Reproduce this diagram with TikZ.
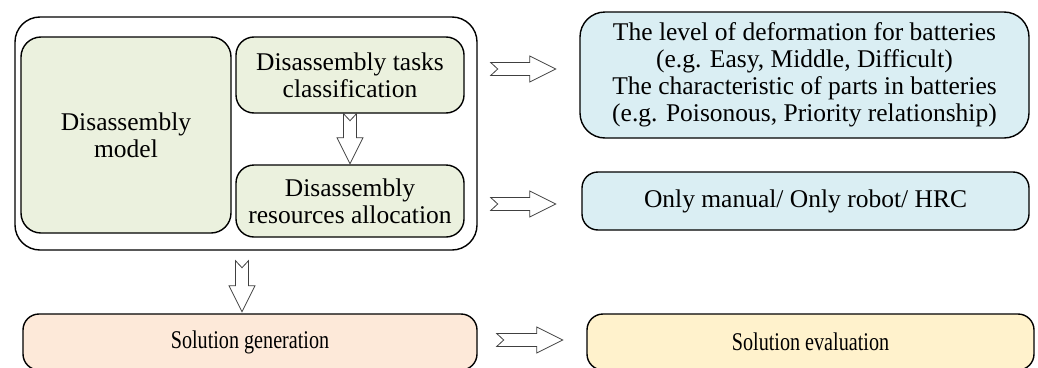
\documentclass[tikz,border=0pt]{standalone}
\usepackage{fontspec}
\setmainfont{Liberation Serif}
\usetikzlibrary{calc}

\definecolor{greenfill}{HTML}{EBF1DE}
\definecolor{bluefill}{HTML}{DAEEF3}
\definecolor{pinkfill}{HTML}{FDE9D9}
\definecolor{yellowfill}{HTML}{FFF2CC}
\definecolor{arrowgray}{HTML}{404040}

\tikzset{
  box/.style={draw=black, line width=1.4pt, align=center, inner sep=0pt,
    font=\fontsize{25.5}{27}\selectfont},
  greenbox/.style={box, fill=greenfill, rounded corners=18pt},
  bluebox/.style={box, fill=bluefill},
  arrowline/.style={draw=arrowgray, line width=0.8pt, fill=white, line join=miter},
  pics/blockarrow/.style={code={
    \draw[arrowline] (0,6.5) -- (#1-26,6.5) -- (#1-26,13) -- (#1,0)
      -- (#1-26,-13) -- (#1-26,-6.5) -- (0,-6.5) -- (7,0) -- cycle;
  }}
}

\begin{document}
\begin{tikzpicture}[x=1pt, y=-1pt]
  \useasboundingbox (0,0) rectangle (1038,367);
  \clip (0,0) rectangle (1038,367);

  % framework around the disassembly modules
  \node[box, fill=white, rounded corners=25pt, minimum width=462pt, minimum height=233pt]
    (outer) at (246,133.5) {};
  \node[greenbox, rounded corners=20pt, minimum width=210pt, minimum height=196pt]
    (model) at (126,135) {Disassembly\\model};
  \node[greenbox, minimum width=228pt, minimum height=76pt]
    (tasks) at (350,75) {Disassembly tasks\\classification};
  \node[greenbox, minimum width=228pt, minimum height=72pt]
    (resources) at (350,201) {Disassembly\\resources allocation};

  % right-hand descriptions
  \node[bluebox, rounded corners=25pt, minimum width=449pt, minimum height=126pt]
    (levels) at (804.5,75) {The level of deformation for batteries\\
      (e.g. Easy, Middle, Difficult)\\
      The characteristic of parts in batteries\\
      (e.g. Poisonous, Priority relationship)};
  \node[bluebox, rounded corners=16pt, minimum width=447pt, minimum height=58pt]
    (modes) at (805.5,201) {Only manual/ Only robot/ HRC};

  % solution stage
  \node[box, fill=pinkfill, rounded corners=16pt, minimum width=454pt, minimum height=56pt]
    (generation) at (250,342) {\scalebox{0.79}[1]{Solution generation}};
  \node[box, fill=yellowfill, rounded corners=16pt, minimum width=447pt, minimum height=56pt]
    (evaluation) at (810.5,342) {\scalebox{0.79}[1]{Solution evaluation}};

  % block arrows
  \pic[rotate=-90] at (tasks.south) {blockarrow=50};
  \pic at ($(outer.east |- 0,69)+(13,0)$) {blockarrow=65};
  \pic at ($(outer.east |- 0,204)+(13,0)$) {blockarrow=65};
  \pic[rotate=-90] at ($(outer.south -| 242,0)+(0,10)$) {blockarrow=51};
  \pic at ($(generation.east)+(19,-2)$) {blockarrow=66};
\end{tikzpicture}
\end{document}
